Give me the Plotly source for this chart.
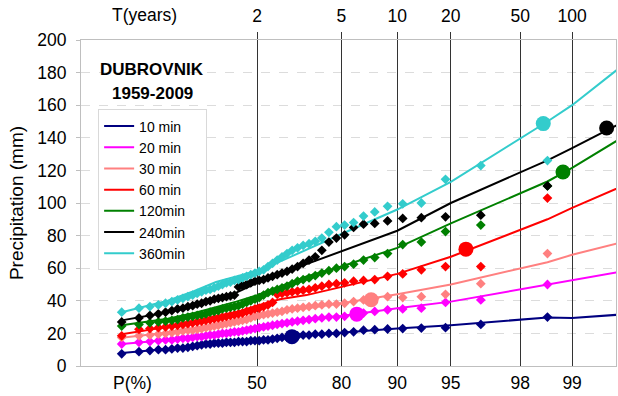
import numpy as np
import plotly.graph_objects as go

# ---------------- data ----------------
series_names = ["10 min", "20 min", "30 min", "60 min", "120min", "240min", "360min"]
series_colors = ["#000080", "#FF00FF", "#FF8080", "#FF0000", "#008000", "#000000", "#33CCCC"]

# plotting positions (non-exceedance probability, %) of the 50 ranked annual maxima
obs_P = [1.39, 3.37, 5.36, 7.34, 9.33, 11.31, 13.29, 15.28, 17.26, 19.25,
         21.23, 23.21, 25.20, 27.18, 29.17, 31.15, 33.13, 35.12, 37.10, 39.09,
         41.07, 43.06, 45.04, 47.02, 49.01, 50.99, 52.98, 54.96, 56.94, 58.93,
         60.91, 62.90, 64.88, 66.87, 68.85, 70.83, 72.82, 74.80, 76.79, 78.77,
         80.75, 82.74, 84.72, 86.71, 88.69, 90.67, 92.66, 94.64, 96.63, 98.61]

obs_10 = [7.5, 8.8, 9.5, 10, 10, 10.5, 11, 11, 11.5, 12,
          12.5, 13, 13.5, 13.5, 14, 14, 14, 14.5, 14.5, 14.5,
          15, 15, 15, 15.5, 15.5, 15.5, 16, 16, 16.5, 17,
          17.5, 17.5, 18, 18.5, 19, 19, 19.5, 19.5, 20, 20,
          20.5, 21, 22, 22.3, 22.7, 23, 23.3, 23.5, 25.5, 30]
obs_20 = [13.5, 14.5, 15, 15.5, 16, 16, 16.5, 17, 17, 17.5,
          18, 18, 18.5, 19, 19, 19.5, 20, 20, 20.5, 21,
          21, 21.5, 22, 22.5, 23, 23.5, 24, 24.5, 25, 25.5,
          26, 26.5, 27, 27.5, 28, 28.5, 29, 29.5, 30, 30,
          30.5, 31.5, 32.5, 33.5, 34.5, 35, 35.5, 39, 40.5, 50]
obs_30 = [17.5, 18.5, 19, 19.5, 20, 20.5, 21, 21.5, 22, 22,
          22.5, 23, 23.5, 24, 24.5, 25, 25.5, 26, 26.5, 27,
          27.5, 28, 28.5, 29.5, 30.5, 31, 31.5, 32, 32.5, 33,
          33.5, 34.5, 35, 35.5, 36, 36.5, 37, 37.5, 38, 38,
          38.5, 39.5, 40.5, 41.5, 42.5, 42, 42.5, 44, 50.5, 69]
obs_60 = [18.5, 22.5, 23, 23.5, 24, 24.5, 25, 25.5, 26, 26.5,
          27, 27.5, 28, 28.5, 29, 29.5, 30, 30.5, 31, 31.5,
          32, 32.5, 33.5, 34, 35, 35.5, 36.5, 37.5, 39, 44,
          44.5, 45, 45.5, 46, 46.5, 47, 48, 49, 50, 50.5,
          51, 52, 52.5, 53, 55, 56.5, 59, 61, 61, 103]
obs_120 = [24.5, 25.5, 26.5, 27, 27.5, 28, 28.5, 29.5, 30, 30.5,
           31, 31.5, 32, 33, 33.5, 34, 35, 35.5, 36, 36.5,
           37, 38, 39, 40, 41, 42, 43.5, 45, 46, 47,
           48, 49, 50.5, 52, 53, 54, 55.5, 57, 58.5, 60,
           61, 62.5, 65, 66.5, 69, 74.5, 76, 82.5, 86.5, 110.5]
obs_240 = [27, 29.5, 31, 32, 33, 34, 35, 35.5, 36.5, 37,
           38, 38.5, 39.5, 40, 41, 41.5, 42, 42.5, 43, 43.5,
           48.5, 49.5, 50, 51, 52, 52.5, 53, 54, 55, 56,
           57, 58, 59.5, 61, 63, 65, 67, 71, 76, 78.5,
           80.5, 85, 87, 87.5, 89, 90.5, 91, 91.5, 92.5, 110.5]
obs_360 = [33, 35.5, 36.5, 37.5, 38.5, 39.5, 40.5, 41.5, 42.5, 43.5,
           44.5, 45.5, 46.5, 47, 48, 49, 50, 51, 51.5, 52.5,
           53, 54, 55, 56, 57, 58, 59, 61, 63, 65,
           67, 69, 71, 72.5, 74, 75, 76.5, 78.5, 82, 85.5,
           86.5, 88, 92, 94.5, 98, 99.5, 100, 114.5, 123, 126]

# fitted distribution curves
fit_P = [1.39, 10, 20, 30, 40, 50, 60, 70, 80, 90, 95, 98.61, 99, 99.5]
fit_10 = [8, 10.3, 12, 13.5, 14.5, 15.5, 17, 18.8, 20.5, 23, 25, 29.8, 29.5, 31.7]
fit_20 = [13.5, 16, 18, 20, 22, 24.5, 26.5, 28.8, 30.7, 35.5, 39.5, 49.8, 52.4, 58.2]
fit_30 = [17.4, 20.5, 23, 25.5, 28, 31, 33.5, 35.5, 38.5, 44, 50, 63.7, 68.2, 76.2]
fit_60 = [19.5, 24, 27.5, 30.5, 33, 37, 41, 43.5, 48.5, 56.5, 67, 90, 97, 110.8]
fit_120 = [25, 29, 32.5, 36, 39.5, 43.5, 49, 55, 61, 72.5, 87.5, 113.2, 121.5, 140.8]
fit_240 = [28, 33, 37, 41, 45, 51, 57, 62.5, 70.5, 83, 100, 126.2, 133.7, 150]
fit_360 = [33, 40, 46, 51.5, 55, 58.5, 64, 71.5, 81, 96, 113, 150, 160, 185]

# highlighted event (large circles)
event_P = [64.8, 83.4, 86.1, 95.9, 98.87, 99.37, 98.53]
event_vals = [18.0, 31.8, 40.6, 71.7, 119.0, 146.0, 148.7]

# axis ticks
P_ticks = [50, 80, 90, 95, 98, 99]
P_labels = ["50", "80", "90", "95", "98", "99"]
T_years = [2, 5, 10, 20, 50, 100]
T_labels = ["2", "5", "10", "20", "50", "100"]

obs_all = [obs_10, obs_20, obs_30, obs_60, obs_120, obs_240, obs_360]
fit_all = [fit_10, fit_20, fit_30, fit_60, fit_120, fit_240, fit_360]


def gumbel(p_percent):
    p = np.asarray(p_percent, dtype=float) / 100.0
    return -np.log(-np.log(p))


FONT = "Liberation Sans, Arial, sans-serif"
X_RANGE = [-2.0, 5.19]
TICK_SIZE = 17.5
NB = "\u00a0"

fig = go.Figure()

for name, col, fitv in zip(series_names, series_colors, fit_all):
    fig.add_trace(go.Scatter(x=gumbel(fit_P), y=fitv, mode="lines",
                             name=name + NB * 4,
                             line=dict(color=col, width=2), showlegend=True))

for name, col, obs in zip(series_names, series_colors, obs_all):
    fig.add_trace(go.Scatter(x=gumbel(obs_P), y=obs, mode="markers", name=name,
                             marker=dict(symbol="diamond", size=7.5, color=col),
                             showlegend=False))

for col, p, v in zip(series_colors, event_P, event_vals):
    fig.add_trace(go.Scatter(x=gumbel([p]), y=[v], mode="markers",
                             marker=dict(symbol="circle", size=15, color=col),
                             showlegend=False))

# dummy trace to activate the top (return period) axis
T_P = [100.0 * (1.0 - 1.0 / t) for t in T_years]
fig.add_trace(go.Scatter(x=gumbel(T_P), y=[None] * len(T_P), xaxis="x2", yaxis="y",
                         mode="markers", showlegend=False, hoverinfo="skip"))

fig.update_layout(
    width=618, height=396,
    margin=dict(l=81, r=2, t=40, b=30),
    paper_bgcolor="white", plot_bgcolor="white",
    font=dict(family=FONT, size=TICK_SIZE, color="black"),
    xaxis=dict(range=X_RANGE, tickvals=list(gumbel(P_ticks)), ticktext=P_labels,
               showgrid=False, zeroline=False, showline=True, linecolor="#bfbfbf",
               linewidth=1, mirror=True, ticks="", ticklabelstandoff=1,
               tickfont=dict(size=TICK_SIZE), automargin=False),
    xaxis2=dict(range=X_RANGE, overlaying="x", side="top", anchor="y",
                tickvals=list(gumbel(T_P)), ticktext=T_labels,
                showgrid=True, gridcolor="#333333", gridwidth=1.4,
                ticks="outside", ticklen=7, tickwidth=1.4, tickcolor="#333333",
                zeroline=False, showline=False, ticklabelstandoff=3,
                tickfont=dict(size=TICK_SIZE), automargin=False),
    yaxis=dict(range=[0, 200], dtick=20, showgrid=True, gridcolor="#dcdcdc",
               griddash="dash", gridwidth=1, zeroline=False, showline=True,
               linecolor="#bfbfbf", linewidth=1, mirror=True,
               ticks="outside", ticklen=4, tickcolor="#bfbfbf",
               ticklabelstandoff=6, tickfont=dict(size=TICK_SIZE), automargin=False,
               title=dict(text="Precipitation (mm)", font=dict(size=19), standoff=8)),
    legend=dict(x=0.032, y=0.787, xanchor="left", yanchor="top",
                bgcolor="white", bordercolor="#d9d9d9", borderwidth=1,
                font=dict(size=14), tracegroupgap=0, itemwidth=30),
    showlegend=True,
)

fig.add_annotation(text="<b>DUBROVNIK</b>", xref="paper", yref="paper",
                   x=0.133, y=0.909, xanchor="center", yanchor="middle",
                   showarrow=False, font=dict(size=17))
fig.add_annotation(text="<b>1959-2009</b>", xref="paper", yref="paper",
                   x=0.133, y=0.836, xanchor="center", yanchor="middle",
                   showarrow=False, font=dict(size=17))
fig.add_annotation(text="T(years)", xref="paper", yref="paper",
                   x=0.119, y=1.078, xanchor="center", yanchor="middle",
                   showarrow=False, font=dict(size=TICK_SIZE))
fig.add_annotation(text="P(%)", xref="paper", yref="paper",
                   x=0.097, y=-0.052, xanchor="center", yanchor="middle",
                   showarrow=False, font=dict(size=TICK_SIZE))

fig.write_html("out.html", config={"displayModeBar": False},
               post_script="document.body.style.margin='0px';")
